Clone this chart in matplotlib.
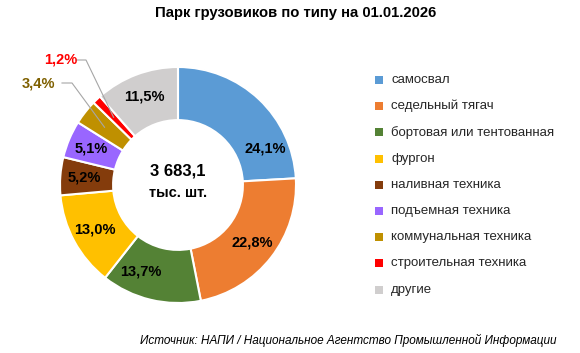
import matplotlib.pyplot as plt
import numpy as np

plt.rcParams['font.family'] = ['Liberation Sans', 'DejaVu Sans']

categories = ['самосвал', 'седельный тягач', 'бортовая или тентованная', 'фургон',
              'наливная техника', 'подъемная техника', 'коммунальная техника',
              'строительная техника', 'другие']
shares = [24.1, 22.8, 13.7, 13.0, 5.2, 5.1, 3.4, 1.2, 11.5]
colors = ['#5B9BD5', '#ED7D31', '#548235', '#FFC000', '#843C0C',
          '#9966FF', '#BF9000', '#FF0000', '#D0CECE']
total_label = '3 683,1'
unit_label = 'тыс. шт.'
title = 'Парк грузовиков по типу на 01.01.2026'
source = 'Источник: НАПИ / Национальное Агентство Промышленной Информации'

W, H = 580, 353
fig = plt.figure(figsize=(W / 100, H / 100), dpi=100)
ax = fig.add_axes([0, 0, 1, 1])

cx, cy, R = 178, H - 185, 118
hole = 0.55
wedges, _ = ax.pie(shares, colors=colors, startangle=90, counterclock=False,
                   center=(cx, cy), radius=R, frame=True,
                   wedgeprops=dict(width=R * (1 - hole), edgecolor='white', linewidth=1.5))
ax.set_xlim(0, W)
ax.set_ylim(0, H)
ax.set_aspect('auto')
ax.axis('off')

# label angle tweaks (degrees, clockwise from top) where the source moved labels
nudge = {0: 24, 2: 10}
cum = np.cumsum([0] + shares)
for i, v in enumerate(shares):
    if v < 4:
        continue
    mid = (cum[i] + cum[i + 1]) / 2 / 100 * 360 + nudge.get(i, 0)
    a = np.radians(mid)
    txt = f'{v:.1f}'.replace('.', ',') + '%'
    r = R * (1 + hole) / 2 + 3
    ax.text(cx + r * np.sin(a), cy + r * np.cos(a), txt, ha='center', va='center',
            fontsize=10.5, fontweight='bold', color='black')

# outside labels with leader lines
out = {6: ((38, H - 83), (72, H - 83), '#7F6000'), 7: ((61, H - 60), (86, H - 60), '#FF0000')}
for i, (lp, kp, col) in out.items():
    mid = (cum[i] + cum[i + 1]) / 2 / 100 * 360
    a = np.radians(mid)
    r = R * (1 + hole) / 2 + 2
    tip = (cx + r * np.sin(a), cy + r * np.cos(a))
    txt = f'{shares[i]:.1f}'.replace('.', ',') + '%'
    ax.text(lp[0], lp[1], txt, ha='center', va='center', fontsize=10.5,
            fontweight='bold', color=col)
    ax.plot([kp[0] - 10, kp[0], tip[0]], [kp[1], kp[1], tip[1]], color='#A6A6A6', lw=0.8)

ax.text(cx, cy + 14, total_label, ha='center', va='center', fontsize=12, fontweight='bold')
ax.text(cx, cy - 8, unit_label, ha='center', va='center', fontsize=10.5, fontweight='bold')

fig.text(296 / W, 1 - 13 / H, title, ha='center', va='center', fontsize=10.7, fontweight='bold')
fig.text(557 / W, 1 - 340 / H, source, ha='right', va='center', fontsize=8.5, style='italic')

for i, (c, col) in enumerate(zip(categories, colors)):
    y = H - (80 + i * 26.2)
    ax.scatter([379], [y], marker='s', s=28, color=col, linewidths=0)
    ax.text(391, y, c, ha='left', va='center', fontsize=9.5, color='#262626')

fig.savefig('out.png', dpi=100)
